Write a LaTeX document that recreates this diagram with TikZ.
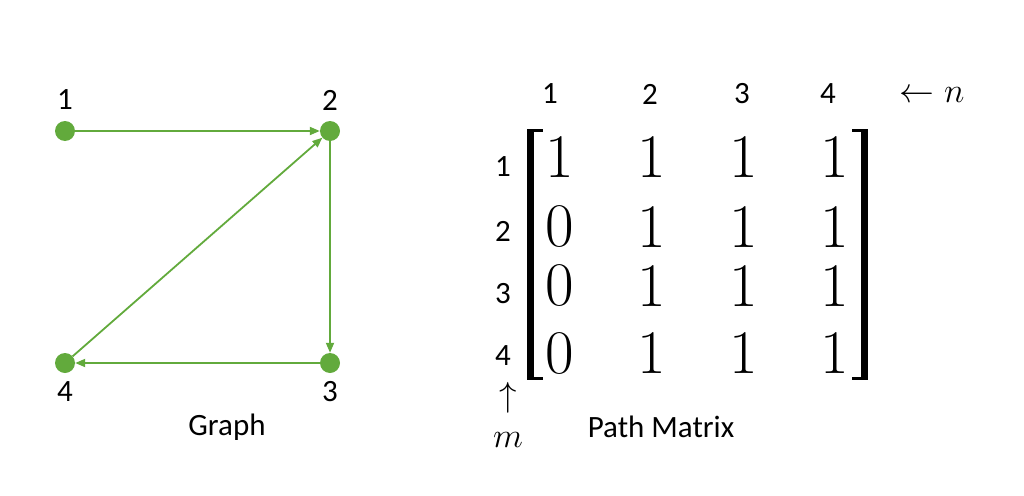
\documentclass[tikz,border=0pt]{standalone}
\usepackage{graphicx}
\usepackage{fontspec}
\newfontfamily\labfont{Carlito}
\usepackage{tikz}
\usetikzlibrary{arrows.meta}
\definecolor{graphgreen}{RGB}{98,170,60}
\newcommand{\bigsym}[1]{\scalebox{1.4}{\fontsize{24.88}{26}\selectfont$#1$}}

\begin{document}
\begin{tikzpicture}[x=1pt, y=-1pt,
		vertex/.style={circle, fill=graphgreen, minimum size=20pt, inner sep=0pt},
		lbl/.style={font=\labfont\fontsize{31}{33}\selectfont, inner sep=0pt},
		entry/.style={font=\fontsize{62}{64}\selectfont, inner sep=0pt},
		link/.style={draw=graphgreen, line width=1.8pt, -{Triangle[length=10pt,width=8pt]}}]
		\useasboundingbox (0,0) rectangle (1024,495);
		% graph
		\node [vertex] (v1) at (65,131) {};
		\node [vertex] (v2) at (330,131) {};
		\node [vertex] (v3) at (330,363) {};
		\node [vertex] (v4) at (65,363) {};
		\node [lbl] (n1) at (65,100) {1};
		\node [lbl] (n2) at (330,100) {2};
		\node [lbl] (n3) at (330,392) {3};
		\node [lbl] (n4) at (65,392) {4};
		\node [lbl] (graph) at (227,427) {Graph};
		\path
			(v1) edge [link] (v2)
			(v2) edge [link] (v3)
			(v3) edge [link] (v4)
			(v4) edge [link] (v2);
		% path matrix
		\foreach \x/\c in {550/1,650/2,742/3,828/4}
			\node [lbl] (col\c) at (\x,94) {\c};
		\foreach \y/\r in {167/1,231/2,294/3,356/4}
			\node [lbl] (row\r) at (503,\y) {\r};
		\foreach \y/\a [count=\r] in {157/1,227/0,286/0,353/0} {
			\node [entry] (m\r1) at (560,\y) {\a};
			\foreach \x [count=\c from 2] in {652,744,835}
				\node [entry] (m\r\c) at (\x,\y) {1};
		}
		\fill (527,129) rectangle (534,380);
		\fill (527,129) rectangle (543,132);
		\fill (527,377) rectangle (543,380);
		\fill (861,129) rectangle (868,380);
		\fill (852,129) rectangle (868,132);
		\fill (852,377) rectangle (868,380);
		\node [inner sep=0pt] (nlabel) at (932,95) {\bigsym{\leftarrow n}};
		\node [inner sep=0pt] (uparr) at (508,398) {\bigsym{\uparrow}};
		\node [inner sep=0pt] (mlabel) at (508,440) {\bigsym{m}};
		\node [lbl] (pathm) at (661,427) {Path Matrix};
	\end{tikzpicture}
\end{document}
